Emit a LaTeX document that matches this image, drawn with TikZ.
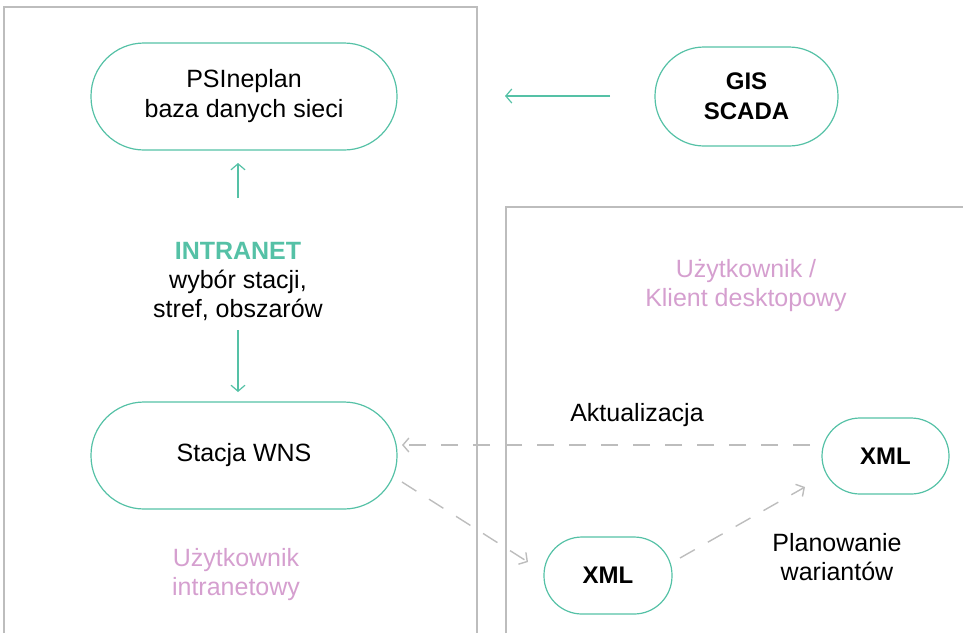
\documentclass[tikz,border=0pt]{standalone}
\usepackage{fontspec}
\setmainfont{Liberation Sans}
\usetikzlibrary{arrows.meta}
\definecolor{zielen}{HTML}{55C1A6}
\definecolor{roz}{HTML}{D59FCF}
\definecolor{szary}{HTML}{BDBDBD}
\tikzset{
    blok/.style={draw=zielen,line width=1.2pt,rectangle,align=center,font=\fontsize{25}{30}\selectfont},
    gruby/.style={blok,font=\fontsize{24}{30}\selectfont\bfseries},
    strz/.style={zielen,line width=1.2pt,-{Straight Barb[length=6pt,width=14pt]}},
    kres/.style={szary,line width=1.4pt,dash pattern=on 17pt off 15pt,-{Straight Barb[length=6pt,width=14pt]}},
    opis/.style={align=center,font=\fontsize{25}{29}\selectfont}
}

\begin{document}
\begin{tikzpicture}[x=1pt,y=-1pt]
    \useasboundingbox (0,0) rectangle (963,633);
    \draw[szary,line width=1.2pt](4,633)--(4,7)--(477,7)--(477,633);
    \draw[szary,line width=1.2pt](506,633)--(506,207)--(963,207);
    \node[blok,minimum width=306pt,minimum height=107pt,rounded corners=53pt](psi)at(244,96.5){PSIneplan\\baza danych sieci};
    \node[gruby,minimum width=183pt,minimum height=99pt,rounded corners=49pt](gis)at(746.5,96.5){GIS\\SCADA};
    \node[blok,minimum width=306pt,minimum height=107pt,rounded corners=53pt](wns)at(244,455.5){Stacja WNS};
    \node[gruby,minimum width=127pt,minimum height=76pt,rounded corners=38pt](xmlp)at(885.5,456){XML};
    \node[gruby,minimum width=128pt,minimum height=77pt,rounded corners=38pt](xmld)at(608,575.5){XML};
    \node[opis](intra)at(238,281){\textcolor{zielen}{\bfseries INTRANET}\\wybór stacji,\\stref, obszarów};
    \node[opis,text=roz](klient)at(746,286){Użytkownik /\\Klient desktopowy};
    \node[opis,text=roz](uzyt)at(236,575){Użytkownik\\intranetowy};
    \node[opis](akt)at(637,415){Aktualizacja};
    \node[opis](plan)at(837,557){Planowanie\\wariantów};
    \coordinate(g1)at(610,96);
    \coordinate(g2)at(505,96);
    \coordinate(i1)at(238,198);
    \coordinate(i2)at(238,330);
    \coordinate(p1)at(238,163);
    \coordinate(p2)at(238,392);
    \coordinate(a1)at(810,445);
    \coordinate(a2)at(402,445);
    \draw[strz](g1)--(g2);
    \draw[strz](i1)--(p1);
    \draw[strz](i2)--(p2);
    \draw[kres](a1)--(a2);
    \draw[kres](402,482)--(528,562);
    \draw[kres](680,558)--(805,487);
\end{tikzpicture}
\end{document}
